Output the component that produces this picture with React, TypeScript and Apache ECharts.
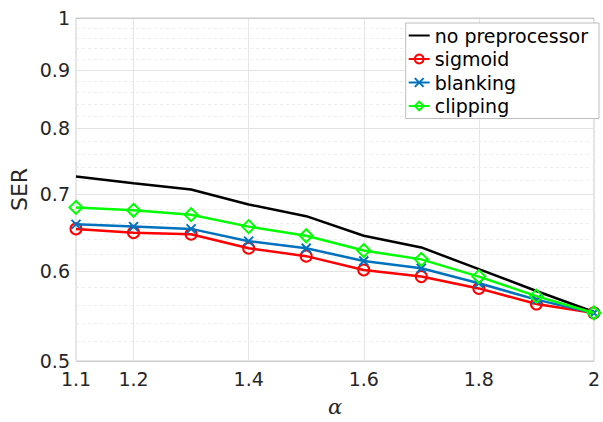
import React, { useEffect, useRef } from "react";
import * as echarts from "echarts";

const alpha = [1.1, 1.2, 1.3, 1.4, 1.5, 1.6, 1.7, 1.8, 1.9, 2.0];
const noPre = [0.726, 0.716, 0.707, 0.686, 0.670, 0.644, 0.629, 0.602, 0.576, 0.552];
const sigmoid = [0.653, 0.648, 0.646, 0.628, 0.618, 0.601, 0.593, 0.579, 0.561, 0.551];
const blanking = [0.659, 0.656, 0.653, 0.637, 0.628, 0.612, 0.603, 0.585, 0.566, 0.551];
const clipping = [0.682, 0.678, 0.672, 0.656, 0.644, 0.625, 0.614, 0.593, 0.570, 0.551];
const xTicks = [1.1, 1.2, 1.4, 1.6, 1.8, 2];
const yMajor = [0.5, 0.6, 0.7, 0.8, 0.9, 1];
const yMinor = [0.52, 0.54, 0.56, 0.58, 0.62, 0.64, 0.66, 0.68, 0.72, 0.74, 0.76, 0.78, 0.82, 0.84, 0.86, 0.88, 0.92, 0.94, 0.96, 0.98];
const legendNames = ["no preprocessor", "sigmoid", "blanking", "clipping"];

const FONT = "DejaVu Sans";
const TXT = "#262626";
const X_PATH = "path://M0,0L10,10M10,0L0,10";
const DIAMOND = "path://M5,0L10,5L5,10L0,5Z";

const pairs = (ys: number[]) => alpha.map((x, i) => [x, ys[i]]);

export default function App() {
  const ref = useRef<HTMLDivElement>(null);
  useEffect(() => {
    if (!ref.current) return;
    const chart = echarts.init(ref.current, undefined, { renderer: "svg" });
    chart.setOption({
      animation: false,
      backgroundColor: "#ffffff",
      textStyle: { fontFamily: FONT },
      grid: { left: 76, right: 8, top: 18, bottom: 57, show: true, borderColor: "#cccccc", borderWidth: 1 },
      legend: {
        orient: "vertical",
        right: 4,
        top: 23,
        z: 20,
        padding: [3, 11, 3, 2],
        itemGap: 4.5,
        itemWidth: 21,
        itemHeight: 11,
        backgroundColor: "#ffffff",
        borderColor: "#bdbdbd",
        borderWidth: 1,
        borderRadius: 0,
        textStyle: { fontFamily: FONT, fontSize: 19, color: "#000", lineHeight: 19 },
        data: legendNames.map((n, i) => (i === 0 ? { name: n, itemStyle: { opacity: 0 } } : { name: n })),
      },
      xAxis: {
        type: "value",
        min: 1.1,
        max: 2,
        name: "α",
        nameLocation: "middle",
        nameGap: 35,
        nameTextStyle: { fontFamily: "DejaVu Serif", fontStyle: "italic", fontSize: 21, color: TXT },
        axisLine: { show: false },
        axisTick: { show: false, customValues: xTicks },
        axisLabel: { customValues: xTicks, fontSize: 19, color: TXT, margin: 8, fontFamily: FONT,
          formatter: (v: number) => String(Math.round(v * 10) / 10) },
        splitLine: { show: true, lineStyle: { color: "#e6e6e6", width: 1 } },
      },
      yAxis: {
        type: "log",
        logBase: 10,
        min: 0.5,
        max: 1,
        name: "SER",
        nameLocation: "middle",
        nameGap: 46,
        nameRotate: 90,
        nameTextStyle: { fontFamily: FONT, fontSize: 22, color: TXT },
        axisLine: { show: false },
        axisTick: { show: false },
        axisLabel: { show: false },
        splitLine: { show: false },
      },
      series: [
        {
          name: "grid",
          type: "line",
          data: [],
          z: 1,
          silent: true,
          markLine: {
            silent: true,
            z: 1,
            symbol: "none",
            animation: false,
            data: [
              ...yMinor.map((v) => ({ yAxis: v, lineStyle: { color: "#ededed", type: [3, 3], width: 1 }, label: { show: false } })),
              ...yMajor.map((v) => ({
                yAxis: v,
                lineStyle: { color: v === 0.5 || v === 1 ? "#cccccc" : "#e3e3e3", type: "solid", width: 1 },
                label: { show: true, position: "start", distance: 6, formatter: String(v), fontSize: 19, color: TXT, fontFamily: FONT },
              })),
            ],
          },
        },
        {
          name: "no preprocessor",
          type: "line",
          data: pairs(noPre),
          z: 3,
          symbol: "none",
          color: "#000000",
          lineStyle: { color: "#000000", width: 2.5 },
        },
        {
          name: "sigmoid",
          type: "line",
          data: pairs(sigmoid),
          z: 4,
          symbol: "circle",
          symbolSize: 11,
          color: "#ff0000",
          lineStyle: { color: "#ff0000", width: 2.5 },
          itemStyle: { color: "rgba(255,255,255,0)", borderColor: "#ff0000", borderWidth: 2 },
        },
        {
          name: "blanking",
          type: "line",
          data: pairs(blanking),
          z: 5,
          symbol: X_PATH,
          symbolSize: 9,
          color: "#0072bd",
          lineStyle: { color: "#0072bd", width: 2.5 },
          itemStyle: { color: "rgba(255,255,255,0)", borderColor: "#0072bd", borderWidth: 2 },
        },
        {
          name: "clipping",
          type: "line",
          data: pairs(clipping),
          z: 6,
          symbol: DIAMOND,
          symbolSize: 13,
          color: "#00ff00",
          lineStyle: { color: "#00ff00", width: 2.5 },
          itemStyle: { color: "rgba(255,255,255,0)", borderColor: "#00ff00", borderWidth: 2 },
        },
      ],
    });
    return () => chart.dispose();
  }, []);
  return <div ref={ref} style={{ width: 603, height: 422, position: "absolute", left: 0, top: 0 }} />;
}
